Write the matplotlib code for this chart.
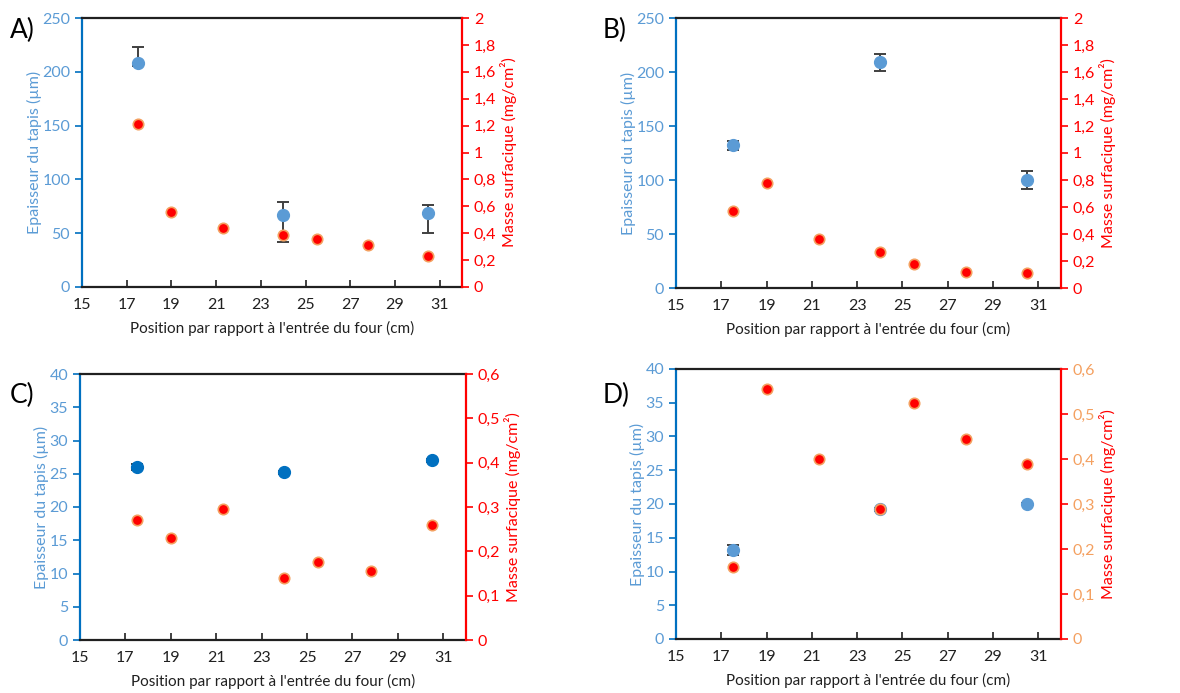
import matplotlib
matplotlib.use("Agg")
import matplotlib.pyplot as plt
import numpy as np

plt.rcParams['font.family'] = ['Lato', 'DejaVu Sans']

# positions (cm)
pos_thick = [17.5, 24, 30.5]
pos_mass = [17.5, 19, 21.3, 24, 25.5, 27.8, 30.5]

# A)
thick_A = [208, 67, 69]
err_lo_A = [3, 25, 19]
err_hi_A = [15, 12, 7]
mass_A = [1.21, 0.56, 0.44, 0.39, 0.36, 0.31, 0.23]

# B)
thick_B = [132, 209, 100]
err_lo_B = [4, 8, 8]
err_hi_B = [4, 8, 8]
mass_B = [0.57, 0.78, 0.36, 0.27, 0.18, 0.12, 0.11]

# C)
thick_C = [26.0, 25.2, 27.0]
err_lo_C = [0.4, 0.2, 0.2]
err_hi_C = [0.4, 0.2, 0.2]
mass_C = [0.27, 0.23, 0.295, 0.14, 0.175, 0.155, 0.26]

# D)
thick_D = [13.2, 19.2, 20.0]
err_lo_D = [0.7, 0.2, 0.2]
err_hi_D = [0.7, 0.2, 0.2]
mass_D = [0.16, 0.555, 0.40, 0.29, 0.525, 0.445, 0.39]

xticks = list(range(15, 32, 2))

BLUE = '#5B9BD5'
DARKBLUE = '#0070C0'
RED = '#FF0000'
ORANGE = '#F4A060'
GREY = '#404040'

fig = plt.figure(figsize=(11.8, 6.93), dpi=100)


def comma(v):
    return '{:g}'.format(round(v, 2)).replace('.', ',')


def panel(rect, label, thick, elo, ehi, mass, ylim_l, step_l, ylim_r, step_r,
          pt_color, rtick_color, lab_xy):
    ax = fig.add_axes(rect)
    ax.errorbar(pos_thick, thick, yerr=[elo, ehi], fmt='o', color=pt_color,
                ms=8.5, ecolor=GREY, elinewidth=1.4, capsize=4, capthick=1.4,
                zorder=3)
    ax.set_xlim(15, 32)
    ax.set_ylim(0, ylim_l)
    ax.set_xticks(xticks)
    lt = np.arange(0, ylim_l + step_l / 2, step_l)
    ax.set_yticks(lt)
    ax.set_yticklabels([str(int(v)) for v in lt])
    ax.tick_params(axis='x', direction='in', length=5, width=1.2,
                   colors='#202020', labelsize=11.5, pad=8)
    ax.tick_params(axis='y', direction='out', length=5, width=1.2,
                   colors=DARKBLUE, labelcolor=BLUE, labelsize=11.5)
    for s in ['top', 'bottom']:
        ax.spines[s].set_color('#202020')
        ax.spines[s].set_linewidth(1.6)
    ax.spines['left'].set_color(DARKBLUE)
    ax.spines['left'].set_linewidth(1.6)
    ax.spines['right'].set_visible(False)
    ax.set_xlabel("Position par rapport à l'entrée du four (cm)", fontsize=11,
                  color='#202020', labelpad=6)
    ax.set_ylabel('Epaisseur du tapis (µm)', fontsize=11.5, color=BLUE,
                  labelpad=0)

    ax2 = ax.twinx()
    ax2.plot(pos_mass, mass, 'o', color=RED, mec=ORANGE, mew=1.2, ms=7.5,
             ls='none', zorder=4)
    ax2.set_ylim(0, ylim_r)
    rt = np.arange(0, ylim_r + step_r / 2, step_r)
    ax2.set_yticks(rt)
    ax2.set_yticklabels([comma(v) for v in rt])
    ax2.tick_params(axis='y', direction='out', length=5, width=1.2,
                    colors=RED, labelcolor=rtick_color, labelsize=11.5)
    ax2.spines['right'].set_color(RED)
    ax2.spines['right'].set_linewidth(1.6)
    ax2.spines['left'].set_visible(False)
    ax2.spines['top'].set_visible(False)
    ax2.spines['bottom'].set_visible(False)
    ax2.set_ylabel('Masse surfacique (mg/cm²)', fontsize=11.5, color=RED,
                   labelpad=3)

    fig.text(lab_xy[0], lab_xy[1], label, fontsize=19, color='black',
             ha='left', va='center')


panel([82 / 1180, 1 - 287 / 693, 380 / 1180, 269 / 693], 'A)',
      thick_A, err_lo_A, err_hi_A, mass_A, 250, 50, 2, 0.2,
      BLUE, RED, (10 / 1180, 1 - 30 / 693))
panel([676 / 1180, 1 - 288 / 693, 385 / 1180, 270 / 693], 'B)',
      thick_B, err_lo_B, err_hi_B, mass_B, 250, 50, 2, 0.2,
      BLUE, RED, (603 / 1180, 1 - 30 / 693))
panel([80 / 1180, 1 - 640 / 693, 386 / 1180, 266 / 693], 'C)',
      thick_C, err_lo_C, err_hi_C, mass_C, 40, 5, 0.6, 0.1,
      DARKBLUE, RED, (10 / 1180, 1 - 395 / 693))
panel([676 / 1180, 1 - 639 / 693, 385 / 1180, 270 / 693], 'D)',
      thick_D, err_lo_D, err_hi_D, mass_D, 40, 5, 0.6, 0.1,
      BLUE, ORANGE, (603 / 1180, 1 - 395 / 693))

fig.savefig('out.png', dpi=100)
